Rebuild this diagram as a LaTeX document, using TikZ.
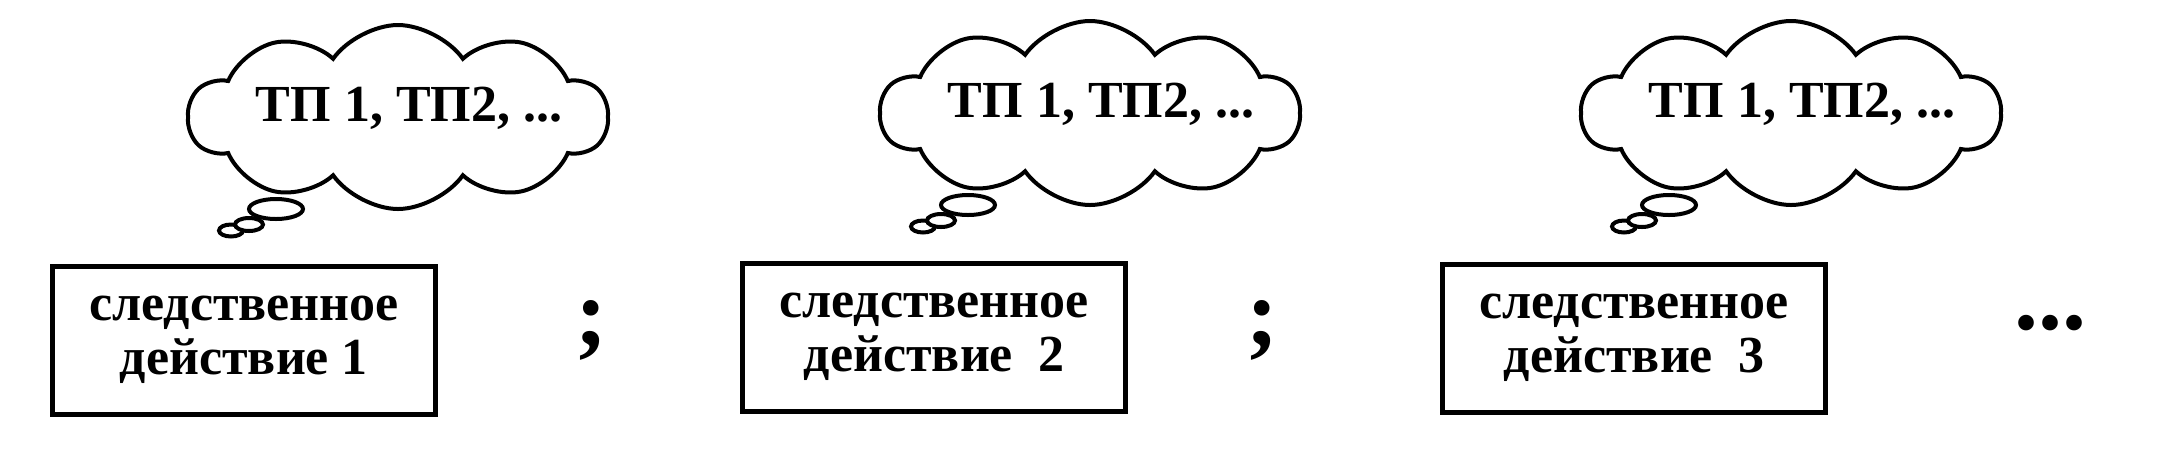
\documentclass[tikz,border=0pt]{standalone}
\usepackage{fontspec}
\setmainfont{Liberation Serif}
\usetikzlibrary{shapes.symbols,shapes.geometric}
\tikzset{
  thought/.style={shape=cloud, draw, line width=2pt, cloud puffs=10,
    cloud puff arc=110, minimum width=209.5pt, minimum height=92pt, inner sep=0pt},
  bubble/.style={shape=ellipse, draw, fill=white, line width=2pt, inner sep=0pt},
  tptext/.style={font=\fontsize{26}{28}\selectfont\bfseries},
  actbox/.style={draw, line width=2.5pt, minimum width=191.5pt, minimum height=74pt,
    align=center, font=\fontsize{26}{27}\selectfont\bfseries},
  punct/.style={anchor=base, inner sep=0pt, font=\fontsize{48}{48}\selectfont\bfseries}
}
\begin{document}
\begin{tikzpicture}[x=.5pt,y=-.5pt]
  \useasboundingbox (0,0) rectangle (2164,463);
  % boxes
  \foreach \n/\dx/\dy/\gap in {1/0/0/0pt, 2/690/-3/6pt, 3/1390/-2/6pt}{%
    \node[actbox] (box\n) at (244+\dx, 340+\dy) {следственное\\действие\hspace{\gap} \n};
  }
  % clouds
  \foreach \n/\dx/\dy in {1/0/0, 2/692/-4, 3/1393/-4}{%
    \node[thought] (cloud\n) at (398+\dx, 117+\dy) {};
    \node[tptext] (tp\n) at (409+\dx, 108+\dy) {ТП 1, ТП2, ...};
    \node[bubble, minimum width=12pt, minimum height=6pt] (bs\n) at (231+\dx, 230.5+\dy) {};
    \node[bubble, minimum width=14pt, minimum height=6.5pt] (bm\n) at (249+\dx, 224.5+\dy) {};
    \node[bubble, minimum width=27pt, minimum height=10pt] (bl\n) at (276+\dx, 209+\dy) {};
  }
  \node[punct] (semi1) at (591,345) {;};
  \node[punct] (semi2) at (1262,345) {;};
  \node[punct] (dots) at (2050,329) {...};
\end{tikzpicture}
\end{document}
